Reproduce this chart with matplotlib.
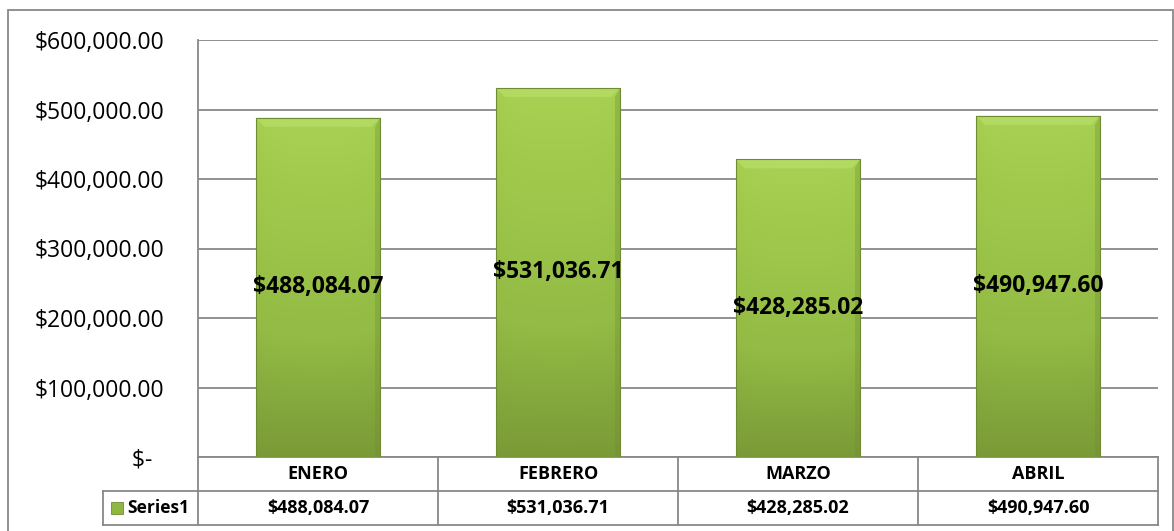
import numpy as np
import matplotlib
matplotlib.use("Agg")
import matplotlib.pyplot as plt
from matplotlib.patches import Rectangle, Polygon
from matplotlib.colors import LinearSegmentedColormap
from matplotlib.ticker import FuncFormatter
from matplotlib.transforms import blended_transform_factory

plt.rcParams['font.family'] = ['Open Sans', 'DejaVu Sans']

meses = ['ENERO', 'FEBRERO', 'MARZO', 'ABRIL']
ventas = [488084.07, 531036.71, 428285.02, 490947.60]
serie = 'Series1'
y_ticks = [0, 100000, 200000, 300000, 400000, 500000, 600000]

W, H = 1174, 531
fig = plt.figure(figsize=(W / 100, H / 100), dpi=100)

# plot area in pixels
left, right, top, bottom = 198, 1158, 40, 457
ax = fig.add_axes([left / W, 1 - bottom / H, (right - left) / W, (bottom - top) / H])

grid_col = '#888888'

def money(v):
    return '${:,.2f}'.format(v)

def tick_fmt(v, pos):
    if v == 0:
        return '$-  '
    return money(v)

x = np.arange(len(meses))
bars = ax.bar(x, ventas, width=0.52, color='#9bc348', edgecolor='#6f8c33',
              linewidth=0.6, zorder=3)

# green gradient fill on each bar, with a small bevel on top
cmap = LinearSegmentedColormap.from_list(
    'verde', [(0, '#7a9a37'), (0.35, '#93bb45'), (0.75, '#a0c94c'), (1, '#a9d254')])
grad_v = np.linspace(0, 1, 200).reshape(-1, 1)
grad_h = 1 - 0.10 * np.abs(np.linspace(-1, 1, 60)) ** 4
grad = grad_v * grad_h
bev_x = 9 / 240
bev_y = 9 / 417 * 600000
for b in bars:
    bx, by = b.get_x(), b.get_y()
    bw, bh = b.get_width(), b.get_height()
    im = ax.imshow(grad, cmap=cmap, origin='lower', aspect='auto',
                   extent=[bx, bx + bw, by, by + bh], zorder=3.5)
    im.set_clip_path(b)
    tp = by + bh
    ax.add_patch(Polygon([(bx, tp), (bx + bw, tp), (bx + bw - bev_x, tp - bev_y),
                          (bx + bev_x, tp - bev_y)], closed=True,
                         facecolor='#b6dd66', edgecolor='none', alpha=0.8, zorder=3.8))
    ax.add_patch(Polygon([(bx + bw, tp), (bx + bw, by), (bx + bw - bev_x * 0.6, by),
                          (bx + bw - bev_x * 0.6, tp - bev_y)], closed=True,
                         facecolor='#6f8f33', edgecolor='none', alpha=0.35, zorder=3.8))
    ax.add_patch(Rectangle((bx, by), bw, bh, fill=False, edgecolor='#6f8c33',
                           linewidth=0.8, zorder=4))

for xi, v in zip(x, ventas):
    ax.text(xi, v / 2, money(v), ha='center', va='center', fontsize=16.5,
            fontweight='bold', color='black', zorder=5)

ax.set_xlim(-0.5, len(meses) - 0.5)
ax.set_ylim(0, 600000)
ax.set_yticks(y_ticks)
ax.yaxis.set_major_formatter(FuncFormatter(tick_fmt))
ax.tick_params(axis='y', length=0, pad=24, labelsize=16.5)
ax.set_xticks([])
ax.grid(axis='y', color=grid_col, linewidth=1.3, zorder=0)
for s in ['right', 'bottom', 'top']:
    ax.spines[s].set_visible(False)
ax.spines['left'].set_color(grid_col)
ax.spines['left'].set_linewidth(1.3)

# data table under the chart, drawn by hand
ax_w = right - left
ax_h = bottom - top
row_h = 34 / ax_h
lab_x = -(left - 103) / ax_w
tr = blended_transform_factory(ax.transData, ax.transAxes)
line_kw = dict(color=grid_col, linewidth=1.3, clip_on=False)

ax.plot([0, 1], [0, 0], transform=ax.transAxes, **line_kw)
ax.plot([lab_x, 1], [-row_h, -row_h], transform=ax.transAxes, **line_kw)
ax.plot([lab_x, 1], [-2 * row_h, -2 * row_h], transform=ax.transAxes, **line_kw)
ax.plot([0, 0], [0, -2 * row_h], transform=ax.transAxes, **line_kw)
ax.plot([lab_x, lab_x], [-row_h, -2 * row_h], transform=ax.transAxes, **line_kw)
for xb in np.arange(len(meses)) + 0.5:
    ax.plot([xb, xb], [0, -2 * row_h], transform=tr, **line_kw)

for xi, m, v in zip(x, meses, ventas):
    ax.text(xi, -0.5 * row_h, m, transform=tr, ha='center', va='center',
            fontsize=13, fontweight='bold')
    ax.text(xi, -1.5 * row_h, money(v), transform=tr, ha='center', va='center',
            fontsize=13, fontweight='bold')

ax.text(lab_x + 24 / ax_w, -1.5 * row_h, serie, transform=ax.transAxes,
        ha='left', va='center', fontsize=12.5, fontweight='bold')

# legend key square
ax.plot([lab_x + 14 / ax_w], [-1.5 * row_h], marker='s', markersize=8,
        color='#8fb843', markeredgecolor='#6f8c33', markeredgewidth=0.6,
        transform=ax.transAxes, clip_on=False, zorder=6)

# outer chart border
fig.patches.append(Rectangle((8 / W, -0.05), (W - 8) / W - 0.0005, 1 - 10 / H + 0.05,
                             transform=fig.transFigure, fill=False,
                             edgecolor='#888888', linewidth=1.3))

fig.savefig('out.png', dpi=100)
